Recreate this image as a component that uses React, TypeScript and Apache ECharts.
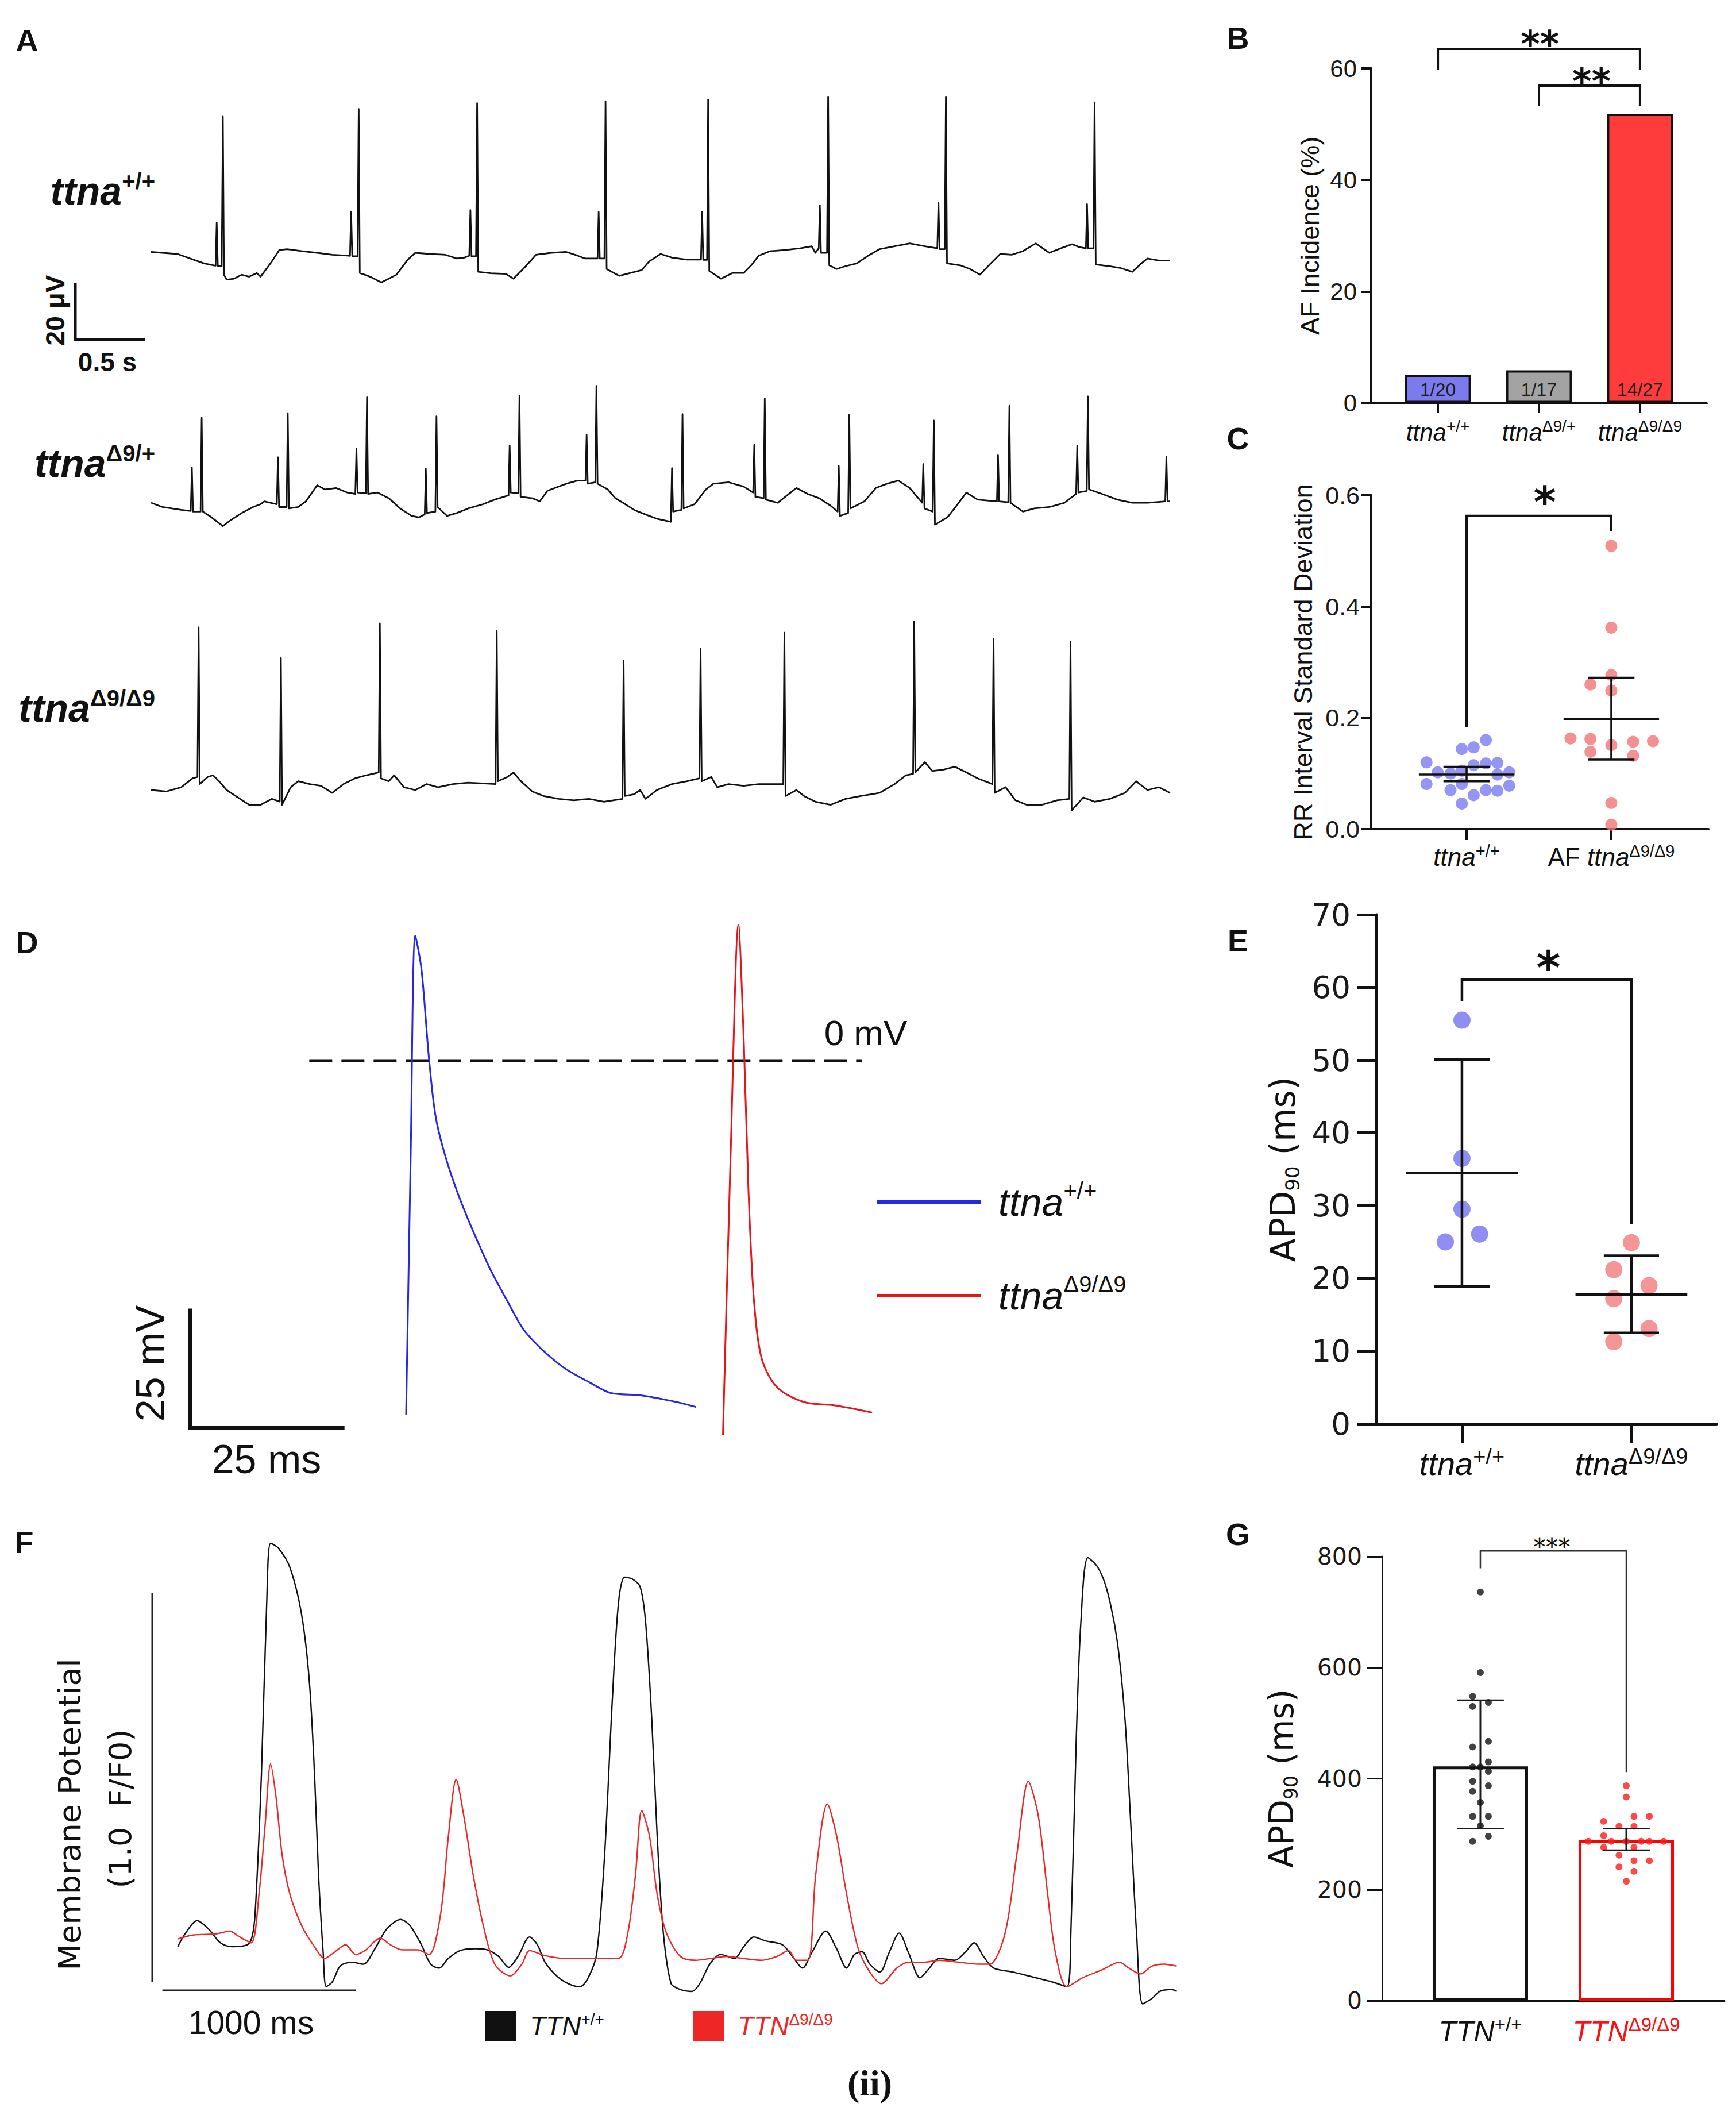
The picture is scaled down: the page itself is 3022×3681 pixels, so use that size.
import React, { useEffect, useRef } from 'react';
import * as echarts from 'echarts';

const LS = 'Liberation Sans';
const DV = 'DejaVu Sans';
const SERIF = 'Liberation Serif';

// ================= Panel A: surface ECG, [time (s), amplitude (µV)] =================
const ecgWT = [[0,0.3],[0.188,-0.4],[0.377,-3.7],[0.447,-4.4],[0.46,-4.5],[0.468,10.7],[0.476,-4.6],[0.504,-4.7],[0.512,47.9],[0.52,-7.7],[0.539,-9.4],[0.592,-9.1],[0.646,-7.7],[0.7,-8.4],[0.754,-7.1],[0.781,-8.4],[0.862,-3.0],[0.915,1.0],[0.969,1.3],[1.077,0.6],[1.185,0.0],[1.292,-0.7],[1.4,-1.0],[1.419,-1.1],[1.427,14.4],[1.435,-1.2],[1.473,-1.2],[1.481,50.6],[1.489,-7.1],[1.562,-8.4],[1.642,-10.4],[1.696,-9.1],[1.75,-7.7],[1.831,-2.4],[1.885,0.0],[1.992,-0.4],[2.1,-0.7],[2.181,-2.0],[2.235,-1.7],[2.27,-1.0],[2.278,15.0],[2.286,-1.2],[2.318,-1.2],[2.326,52.6],[2.334,-6.7],[2.423,-7.2],[2.531,-7.4],[2.585,-9.1],[2.666,-5.1],[2.746,-0.7],[2.854,0.0],[2.962,0.3],[3.043,-1.0],[3.096,-2.0],[3.185,-2.0],[3.193,14.4],[3.201,-2.0],[3.234,-2.0],[3.242,53.3],[3.25,-5.7],[3.339,-8.1],[3.419,-7.1],[3.5,-6.1],[3.554,-3.0],[3.635,-0.4],[3.716,-1.7],[3.823,-2.4],[3.923,-2.4],[3.931,14.4],[3.939,-2.5],[3.966,-2.5],[3.974,53.9],[3.982,-6.4],[4.066,-9.1],[4.147,-7.1],[4.227,-7.1],[4.281,-4.4],[4.335,-1.0],[4.416,0.6],[4.523,1.0],[4.631,1.6],[4.712,2.3],[4.739,0.0],[4.763,1.6],[4.771,16.7],[4.779,0.0],[4.822,0.0],[4.83,54.9],[4.838,-4.4],[4.89,-5.7],[4.954,-4.7],[5.035,-3.7],[5.116,-1.0],[5.197,1.3],[5.304,2.3],[5.412,3.3],[5.52,2.3],[5.609,1.6],[5.617,17.7],[5.625,1.3],[5.662,1.3],[5.67,54.9],[5.678,-3.7],[5.773,-4.4],[5.843,-5.7],[5.913,-7.7],[5.977,-4.4],[6.058,-0.4],[6.139,-0.7],[6.22,0.6],[6.311,3.3],[6.408,0.0],[6.489,1.6],[6.57,3.0],[6.623,2.0],[6.669,1.6],[6.677,17.1],[6.685,1.6],[6.723,1.6],[6.731,52.9],[6.739,-4.1],[6.839,-4.7],[6.92,-5.4],[7.0,-6.7],[7.065,-3.7],[7.108,-2.0],[7.189,-2.7],[7.27,-2.7]];
const ecgHet = [[0,1.0],[0.081,-0.5],[0.215,-1.5],[0.283,-1.9],[0.291,13.4],[0.299,-2.1],[0.353,-2.1],[0.361,30.9],[0.369,-2.1],[0.431,-4.1],[0.512,-7.2],[0.565,-5.2],[0.646,-2.6],[0.727,-0.5],[0.781,0.5],[0.808,1.5],[0.897,0.5],[0.905,17.0],[0.913,-0.5],[0.967,-0.5],[0.975,32.5],[0.983,-1.0],[1.05,-0.5],[1.104,1.5],[1.185,7.2],[1.239,5.7],[1.319,6.2],[1.4,4.6],[1.457,4.1],[1.465,20.1],[1.473,4.6],[1.532,4.3],[1.54,38.1],[1.548,4.1],[1.616,4.6],[1.696,2.6],[1.777,-1.0],[1.858,-3.6],[1.912,-4.1],[1.952,-3.1],[1.96,12.9],[1.968,-2.6],[2.028,-2.1],[2.036,31.4],[2.044,-0.5],[2.111,-3.6],[2.181,-2.6],[2.262,-1.0],[2.369,0.5],[2.45,2.1],[2.55,3.6],[2.558,21.1],[2.566,4.6],[2.62,4.3],[2.628,38.7],[2.636,3.1],[2.719,2.6],[2.773,1.5],[2.827,5.2],[2.881,6.2],[2.962,7.7],[3.043,8.8],[3.099,8.8],[3.107,24.9],[3.115,7.7],[3.169,8.2],[3.177,42.1],[3.185,7.7],[3.258,5.7],[3.312,2.6],[3.366,1.0],[3.446,-1.5],[3.527,-3.1],[3.608,-4.6],[3.708,-5.7],[3.716,13.2],[3.724,-2.1],[3.783,-1.5],[3.791,32.2],[3.799,-1.0],[3.877,0.5],[3.958,5.7],[4.012,7.7],[4.12,8.2],[4.227,6.7],[4.295,4.6],[4.303,21.4],[4.311,3.1],[4.37,2.6],[4.378,37.6],[4.386,2.1],[4.47,1.0],[4.55,4.1],[4.604,6.2],[4.685,4.1],[4.766,2.6],[4.847,0.0],[4.898,-2.1],[4.906,13.9],[4.914,-3.6],[4.973,-2.6],[4.981,32.0],[4.989,-1.0],[5.089,1.5],[5.17,6.2],[5.25,7.7],[5.331,8.8],[5.412,6.2],[5.501,1.0],[5.509,14.6],[5.517,-1.0],[5.576,-2.1],[5.584,29.9],[5.592,-6.7],[5.681,-4.1],[5.762,1.0],[5.816,4.6],[5.897,2.1],[6.034,1.5],[6.042,17.7],[6.05,1.5],[6.115,1.2],[6.123,35.1],[6.131,1.0],[6.22,-2.1],[6.3,-1.0],[6.408,-0.5],[6.516,1.0],[6.599,4.1],[6.607,21.1],[6.615,4.6],[6.675,5.2],[6.683,38.4],[6.691,5.7],[6.785,4.1],[6.893,2.1],[7.0,1.0],[7.108,1.0],[7.235,1.5],[7.243,17.3],[7.251,1.5],[7.27,1.5]];
const ecgHom = [[0,0],[0.108,-0.5],[0.215,1.0],[0.296,4.1],[0.331,4.6],[0.339,57.2],[0.347,2.1],[0.404,4.6],[0.442,5.2],[0.485,3.1],[0.539,0],[0.619,-2.6],[0.7,-5.2],[0.781,-5.2],[0.862,-3.1],[0.918,-4.1],[0.926,46.4],[0.934,-5.2],[0.996,1.0],[1.05,3.1],[1.131,2.1],[1.212,1.5],[1.292,-1.0],[1.373,2.1],[1.454,4.1],[1.535,5.2],[1.624,6.2],[1.632,58.6],[1.64,4.1],[1.696,3.1],[1.734,5.2],[1.804,1.0],[1.885,0],[1.966,2.1],[2.046,1.0],[2.154,2.1],[2.262,2.6],[2.458,2.1],[2.466,55.9],[2.474,3.1],[2.542,4.6],[2.585,6.2],[2.639,3.1],[2.719,-0.5],[2.8,-2.1],[2.908,-3.1],[3.016,-3.6],[3.123,-3.1],[3.231,-4.1],[3.363,-3.1],[3.371,45.6],[3.379,-2.1],[3.446,-1.5],[3.489,0],[3.527,-3.1],[3.608,0],[3.716,2.1],[3.823,3.1],[3.912,4.1],[3.92,49.8],[3.928,3.1],[3.996,4.6],[4.039,1.0],[4.12,2.1],[4.227,1.5],[4.335,2.1],[4.51,2.1],[4.518,55.3],[4.526,-2.1],[4.604,0],[4.658,-2.1],[4.739,-4.1],[4.847,-5.2],[4.954,-3.1],[5.062,-2.1],[5.197,-1.0],[5.304,2.1],[5.385,5.2],[5.436,5.7],[5.444,59.3],[5.452,6.2],[5.52,9.8],[5.573,6.7],[5.654,7.2],[5.735,8.2],[5.816,6.2],[5.897,4.1],[6.002,2.1],[6.01,53.1],[6.018,-1.0],[6.096,1.0],[6.166,-3.6],[6.247,-5.2],[6.354,-5.2],[6.462,-3.6],[6.551,-3.1],[6.559,52.1],[6.567,-7.2],[6.65,-2.6],[6.731,-4.1],[6.839,-3.1],[6.947,-1.0],[7.027,3.1],[7.108,0],[7.189,1.0],[7.27,-1.0]];
const aScaleBar = [[-0.541, -10.5], [-0.541, -30.5], [-0.041, -30.5]]; // 20 µV, 0.5 s
const aLabelSup = ['+/+', 'Δ9/+', 'Δ9/Δ9'];

// ================= Panel B: AF incidence =================
const bLabelSup = ['+/+', 'Δ9/+', 'Δ9/Δ9'];
const bIncidence = [5.0, 5.88, 51.85];
const bCounts = ['1/20', '1/17', '14/27'];
const bBrackets = [[0, 2, 63.5, 60, 60], [1, 2, 56.9, 53.4, 53.4]];
const bStars = [[1.01, 64.3], [1.52, 57.6]];
const bStarText = ['**', '**'];

// ================= Panel C: RR interval SD =================
const cWT = [0.160, 0.147, 0.144, 0.120, 0.119, 0.118, 0.115, 0.102, 0.100, 0.102, 0.098, 0.105, 0.081, 0.081, 0.078, 0.070, 0.070, 0.069, 0.061, 0.046];
const cWTJitter = [0.133, 0.049, -0.033, -0.277, 0.213, 0.133, 0.049, -0.2, -0.111, 0.295, 0.213, -0.033, -0.277, -0.033, 0.295, -0.111, 0.133, 0.213, 0.049, -0.033];
const cAF = [0.509, 0.362, 0.277, 0.260, 0.249, 0.163, 0.162, 0.157, 0.158, 0.151, 0.139, 0.132, 0.047, 0.008];
const cAFJitter = [0, 0, 0, -0.144, 0, -0.282, -0.144, 0.151, 0.288, 0, -0.144, 0.151, 0, 0];
const cStats = [[0, 0.098, 0.086, 0.112], [1, 0.198, 0.125, 0.272]]; // [group, mean, lower, upper]
const cBrackets = [[0, 1, 0.563, 0.186, 0.537]];
const cStars = [[0.54, 0.588]];

// ================= Panel D: action potentials, [time (ms), mV] =================
const apWT = [[15.66,-74.2],[16.41,-19.3],[17.15,26.2],[18.15,19.1],[19.40,-0.1],[20.65,-13.2],[23.78,-27.0],[28.77,-42.4],[31.90,-50.1],[35.02,-57.0],[40.65,-63.9],[45.64,-67.7],[48.77,-69.7],[53.76,-70.2],[58.76,-71.4],[62.51,-72.6]];
const apHom = [[66.89,-78.5],[68.14,-19.3],[69.39,28.4],[70.27,3.7],[71.01,-27.0],[71.89,-50.1],[73.14,-62.4],[75.64,-68.5],[80.01,-71.6],[85.01,-72.3],[91.01,-73.8]];
const apZeroLine = [[0, 0], [89.4, 0]];
const apScaleBar = [[-19.3, -52], [-19.3, -77], [5.7, -77]]; // 25 mV, 25 ms

// ================= Panel E: APD90 zebrafish =================
const eWT = [55.5, 36.5, 29.5, 25.0, 26.1];
const eWTJitter = [0, 0, 0, -0.098, 0.104];
const eHom = [24.9, 21.2, 19.0, 17.2, 13.1, 11.3];
const eHomJitter = [0, -0.104, 0.104, -0.104, 0.104, -0.104];
const eStats = [[0, 34.5, 18.9, 50.1], [1, 17.8, 12.5, 23.1]];
const eBrackets = [[0, 1, 61.1, 58.3, 27.6]];
const eStars = [[0.51, 62.7]];

// ================= Panel F: optical membrane potential, [time (ms), F/F0] =================
const fWT = [[80,0.090],[120,0.125],[180,0.157],[240,0.135],[300,0.100],[360,0.090],[440,0.095],[464,0.115],[480,0.175],[512,0.525],[540,0.975],[560,1.127],[600,1.115],[660,1.065],[720,0.945],[760,0.775],[788,0.525],[808,0.275],[832,0.075],[848,-0.013],[880,0.000],[920,0.040],[980,0.050],[1040,0.045],[1100,0.085],[1160,0.135],[1232,0.160],[1280,0.145],[1340,0.095],[1388,0.045],[1432,0.035],[1480,0.060],[1540,0.080],[1620,0.085],[1680,0.082],[1740,0.065],[1792,0.037],[1840,0.065],[1900,0.115],[1940,0.095],[1980,0.050],[2040,0.015],[2100,-0.005],[2160,-0.013],[2208,0.015],[2248,0.075],[2288,0.325],[2328,0.725],[2360,0.975],[2392,1.040],[2432,1.035],[2472,1.015],[2500,0.925],[2532,0.675],[2560,0.375],[2592,0.125],[2632,-0.005],[2680,-0.020],[2740,-0.025],[2780,-0.005],[2832,0.045],[2888,0.070],[2960,0.060],[3008,0.090],[3060,0.115],[3120,0.105],[3208,0.095],[3260,0.065],[3312,0.035],[3360,0.075],[3432,0.130],[3488,0.085],[3540,0.035],[3580,0.070],[3620,0.077],[3660,0.045],[3712,0.025],[3760,0.075],[3812,0.125],[3860,0.075],[3920,0.010],[3960,0.030],[4020,0.060],[4100,0.055],[4152,0.075],[4200,0.100],[4248,0.065],[4300,0.035],[4400,0.025],[4520,0.010],[4600,0.000],[4680,-0.013],[4700,0.125],[4728,0.625],[4752,0.925],[4788,1.090],[4840,1.065],[4888,1.005],[4940,0.875],[4980,0.675],[5008,0.425],[5040,0.125],[5072,-0.057],[5120,-0.043],[5160,-0.025],[5220,-0.020],[5248,-0.025]];
const fHom = [[80,0.110],[160,0.120],[280,0.123],[348,0.130],[400,0.115],[460,0.100],[500,0.225],[532,0.405],[560,0.560],[588,0.475],[620,0.325],[660,0.225],[720,0.145],[780,0.095],[840,0.060],[888,0.075],[948,0.095],[1000,0.070],[1048,0.080],[1128,0.112],[1180,0.095],[1240,0.082],[1320,0.082],[1380,0.070],[1440,0.175],[1480,0.375],[1520,0.520],[1560,0.425],[1608,0.275],[1660,0.145],[1720,0.045],[1800,0.015],[1860,0.045],[1900,0.080],[1980,0.067],[2080,0.060],[2240,0.060],[2360,0.060],[2408,0.125],[2448,0.275],[2480,0.440],[2520,0.375],[2560,0.225],[2608,0.125],[2680,0.065],[2760,0.055],[2840,0.060],[2920,0.065],[3000,0.060],[3100,0.055],[3180,0.065],[3240,0.080],[3280,0.055],[3340,0.055],[3380,0.275],[3440,0.457],[3488,0.375],[3540,0.225],[3600,0.085],[3660,0.025],[3720,-0.005],[3800,0.035],[3860,0.050],[3940,0.050],[4020,0.055],[4120,0.050],[4220,0.045],[4280,0.045],[4360,0.125],[4420,0.325],[4480,0.515],[4532,0.425],[4580,0.225],[4620,0.075],[4680,-0.013],[4760,0.010],[4860,0.030],[4952,0.050],[5000,0.035],[5060,0.020],[5120,0.040],[5180,0.045],[5248,0.040]];
const fAmpBar = [[-53, 0], [-53, 1.0]]; // 1.0 F/F0
const fTimeBar = [[0, -0.022], [1000, -0.022]]; // 1000 ms

// ================= Panel G: APD90 iPSC-CMs =================
const gWT = [736, 591, 548, 537, 530, 467, 457, 430, 421, 413, 421, 395, 387, 377, 357, 332, 332, 315, 296, 287];
const gWTJitter = [0, 0, -0.053, 0.055, -0.053, 0.055, -0.053, 0.055, -0.053, 0.055, 0, -0.053, 0.055, -0.053, 0, -0.053, 0.055, 0, 0.055, -0.053];
const gHom = [387, 367, 323, 332, 332, 314, 314, 297, 287, 287, 287, 287, 287, 287, 276, 276, 262, 252, 252, 241, 233, 215];
const gHomJitter = [0, 0, -0.155, 0.053, 0.158, -0.05, 0.053, -0.155, -0.26, -0.103, 0, 0.103, 0.158, 0.257, -0.155, 0.053, -0.05, 0.053, 0.158, -0.05, 0.053, 0];
const gMeans = [422, 289];
const gStats = [[0, 422, 310, 541], [1, 289, 271, 310]];
const gBrackets = [[0, 1, 810, 780, 413]];
const gStars = [[0.49, 817.6]];

// ================= helpers =================
const INK = '#111111';

function bracketSeries(ax: number, brackets: number[][], color: string, width: number) {
  return brackets.map((b) => ({
    type: 'line', xAxisIndex: ax, yAxisIndex: ax, symbol: 'none', clip: false, silent: true, z: 6,
    lineStyle: { color, width, cap: 'square', join: 'miter' },
    data: [[b[0], b[3]], [b[0], b[2]], [b[1], b[2]], [b[1], b[4]]],
  }));
}

function starSeries(ax: number, pts: number[][], texts: string[], size: number, weight: string) {
  return {
    type: 'custom', xAxisIndex: ax, yAxisIndex: ax, clip: false, silent: true, z: 7,
    data: pts,
    renderItem: (params: any, api: any) => {
      const p = api.coord([api.value(0), api.value(1)]);
      return {
        type: 'text', x: p[0], y: p[1],
        style: { text: texts[params.dataIndex], fontSize: size, fontFamily: DV, fontWeight: weight, fill: INK, align: 'center', verticalAlign: 'middle' },
      };
    },
  };
}

function errorBarSeries(ax: number, stats: number[][], meanHalf: number, capHalf: number, color: string, width: number) {
  return {
    type: 'custom', xAxisIndex: ax, yAxisIndex: ax, clip: false, silent: true, z: 5,
    data: stats,
    renderItem: (params: any, api: any) => {
      const x = api.value(0), m = api.value(1), lo = api.value(2), hi = api.value(3);
      const children: any[] = [];
      const seg = (a: number[], b: number[]) => children.push({
        type: 'line', shape: { x1: a[0], y1: a[1], x2: b[0], y2: b[1] }, style: { stroke: color, lineWidth: width },
      });
      seg(api.coord([x, lo]), api.coord([x, hi]));
      seg(api.coord([x - capHalf, lo]), api.coord([x + capHalf, lo]));
      seg(api.coord([x - capHalf, hi]), api.coord([x + capHalf, hi]));
      if (meanHalf > 0) seg(api.coord([x - meanHalf, m]), api.coord([x + meanHalf, m]));
      return { type: 'group', children };
    },
  };
}

function hiddenAxis(gridIndex: number, min: number, max: number) {
  return { type: 'value', gridIndex, min, max, show: false, splitLine: { show: false } };
}

function catXAxis(gridIndex: number, min: number, max: number, ticks: number[], labels: string[], o: any) {
  return {
    type: 'value', gridIndex, min, max,
    axisLine: { show: true, onZero: false, lineStyle: { color: INK, width: o.lw } },
    axisTick: { show: o.showTick, customValues: ticks, length: o.tickLen, lineStyle: { color: INK, width: o.lw } },
    axisLabel: { show: true, customValues: ticks, margin: o.margin, formatter: (v: number) => labels[Math.round(v)], rich: o.rich },
    splitLine: { show: false },
  };
}

function valYAxis(gridIndex: number, min: number, max: number, interval: number, o: any) {
  return {
    type: 'value', gridIndex, min, max, interval,
    axisLine: { show: true, onZero: false, lineStyle: { color: INK, width: o.lw } },
    axisTick: { show: true, length: o.tickLen, lineStyle: { color: INK, width: o.lw } },
    axisLabel: { margin: o.margin, fontSize: o.fontSize, fontFamily: o.fontFamily, color: '#1a1a1a', formatter: o.formatter },
    splitLine: { show: false },
    name: o.name, nameLocation: 'middle', nameGap: o.nameGap, nameTextStyle: o.nameTextStyle,
  };
}

function supRich(family: string, size: number, supSize: number, lh: number, color: string, italic = true) {
  return {
    n: { fontFamily: family, fontSize: size, lineHeight: lh, color },
    i: { fontFamily: family, fontStyle: italic ? 'italic' : 'normal', fontSize: size, lineHeight: lh, color },
    s: { fontFamily: family, fontSize: supSize, lineHeight: Math.round(supSize * 1.05), verticalAlign: 'top', color },
  };
}

function buildOption() {
  const grids = [
    { left: 116.6, top: 143, width: 1920.4, height: 495 }, // A1 (t from -0.6 s)
    { left: 116.6, top: 583, width: 1920.4, height: 495 }, // A2
    { left: 116.6, top: 1078, width: 1920.4, height: 495 }, // A3
    { left: 323, top: 1514, width: 1292, height: 1079 }, // D
    { left: 262.4, top: 2636.6, width: 1803.6, height: 947.8 }, // F (t from -60 ms)
    { left: 2387, top: 119, width: 584, height: 582.5 }, // B
    { left: 2387, top: 862, width: 587, height: 581 }, // C
    { left: 2396, top: 1592, width: 592, height: 886 }, // E
    { left: 2406, top: 2709, width: 596, height: 773 }, // G
  ].map((g) => ({ ...g, outerBoundsMode: 'none', containLabel: false }));

  const bLabels = bLabelSup.map((s) => `{i|ttna}{s|${s}}`);
  const cLabels = ['{i|ttna}{s|+/+}', '{n|AF }{i|ttna}{s|Δ9/Δ9}'];
  const eLabels = ['{i|ttna}{s|+/+}', '{i|ttna}{s|Δ9/Δ9}'];
  const gLabels = ['{i|TTN}{s|+/+}', '{ir|TTN}{sr|Δ9/Δ9}'];

  const gRich: any = {
    ...supRich(LS, 50, 33, 58, INK),
    ir: { fontFamily: LS, fontStyle: 'italic', fontSize: 50, lineHeight: 58, color: '#ff1010' },
    sr: { fontFamily: LS, fontSize: 33, lineHeight: 35, verticalAlign: 'top', color: '#ff1010' },
  };

  const xAxis = [
    hiddenAxis(0, -0.6, 7.27), hiddenAxis(1, -0.6, 7.27), hiddenAxis(2, -0.6, 7.27),
    hiddenAxis(3, -20, 100), hiddenAxis(4, -60, 5300),
    catXAxis(5, -0.66, 2.66, [0, 1, 2], bLabels, { lw: 4, showTick: true, tickLen: 17, margin: 26, rich: supRich(LS, 42, 28, 50, INK) }),
    catXAxis(6, -0.659, 1.671, [0, 1], cLabels, { lw: 4, showTick: true, tickLen: 19, margin: 23, rich: supRich(LS, 44, 29, 50, INK) }),
    catXAxis(7, -0.505, 1.502, [0, 1], eLabels, { lw: 5, showTick: true, tickLen: 33, margin: 38, rich: supRich(LS, 56, 38, 62, INK) }),
    catXAxis(8, -0.673, 1.673, [0, 1], gLabels, { lw: 3, showTick: false, tickLen: 0, margin: 25, rich: gRich }),
  ];

  const apdName = '{a|APD}{b|90}{a| (ms)}';
  const apdRich = (size: number) => ({
    rich: {
      a: { fontFamily: DV, fontSize: size, lineHeight: Math.round(size * 1.15), color: INK },
      b: { fontFamily: DV, fontSize: Math.round(size * 0.57), lineHeight: Math.round(size * 0.66), verticalAlign: 'bottom', color: INK },
    },
  });

  const yAxis = [
    hiddenAxis(0, -40, 60), hiddenAxis(1, -40, 60), hiddenAxis(2, -40, 60),
    hiddenAxis(3, -90, 40), hiddenAxis(4, -0.2, 1.2),
    valYAxis(5, 0, 60, 20, { lw: 4, tickLen: 18, margin: 25, fontSize: 42, fontFamily: LS, name: 'AF Incidence (%)', nameGap: 84, nameTextStyle: { fontFamily: LS, fontSize: 45, color: INK } }),
    valYAxis(6, 0, 0.6, 0.2, { lw: 4, tickLen: 18, margin: 20, fontSize: 43, fontFamily: LS, formatter: (v: number) => v.toFixed(1), name: 'RR Interval Standard Deviation', nameGap: 96, nameTextStyle: { fontFamily: LS, fontSize: 45, color: INK } }),
    valYAxis(7, 0, 70, 10, { lw: 5, tickLen: 33, margin: 45, fontSize: 53, fontFamily: DV, name: apdName, nameGap: 129, nameTextStyle: apdRich(60) }),
    valYAxis(8, 0, 800, 200, { lw: 3, tickLen: 27, margin: 35, fontSize: 41, fontFamily: DV, name: apdName, nameGap: 142, nameTextStyle: apdRich(58) }),
  ];

  const traceLine = (ax: number, data: number[][], color: string, width: number, name?: string, smooth: any = false) => ({
    type: 'line', name, xAxisIndex: ax, yAxisIndex: ax, data, symbol: 'none', smooth, clip: false, silent: true,
    color, itemStyle: { color }, lineStyle: { color, width, join: 'round' },
  });

  const BLUE_D = '#2626e8';
  const RED_D = '#e8141c';
  const RED_F = '#ee2626';

  const series: any[] = [
    // Panel A
    traceLine(0, ecgWT, INK, 2.8),
    traceLine(1, ecgHet, INK, 2.8),
    traceLine(2, ecgHom, INK, 2.8),
    { ...traceLine(0, aScaleBar, INK, 5), lineStyle: { color: INK, width: 5, join: 'miter', cap: 'butt' } },
    // Panel D
    { type: 'line', xAxisIndex: 3, yAxisIndex: 3, data: apZeroLine, symbol: 'none', silent: true, lineStyle: { color: INK, width: 5, type: [40, 16] } },
    traceLine(3, apWT, BLUE_D, 3, 'D_wt', 0.3),
    traceLine(3, apHom, RED_D, 3, 'D_hom', 0.3),
    { ...traceLine(3, apScaleBar, INK, 7), lineStyle: { color: INK, width: 7, join: 'miter', cap: 'butt' } },
    // Panel F
    traceLine(4, fWT, INK, 2.4, 'F_wt', 0.3),
    traceLine(4, fHom, RED_F, 2.4, 'F_hom', 0.3),
    traceLine(4, fAmpBar, '#222', 2.5),
    traceLine(4, fTimeBar, '#222', 3),
    // Panel B
    {
      type: 'bar', xAxisIndex: 5, yAxisIndex: 5, barWidth: 115, silent: true, z: 2,
      data: bIncidence.map((v, i) => ({ value: [i, v], itemStyle: { color: ['#7b7bef', '#a3a3a3', '#ff3c3c'][i] } })),
      itemStyle: { borderColor: INK, borderWidth: 4 },
      label: { show: true, position: 'insideBottom', distance: 8, formatter: (p: any) => bCounts[p.dataIndex], fontSize: 32, fontFamily: LS, color: '#1c1c1c' },
    },
    ...bracketSeries(5, bBrackets, INK, 4),
    starSeries(5, bStars, bStarText, 64, 'bold'),
    // Panel C
    { type: 'scatter', xAxisIndex: 6, yAxisIndex: 6, symbolSize: 21, silent: true, z: 2, itemStyle: { color: '#7b7bf2' }, data: cWT.map((v, i) => [0 + cWTJitter[i], v]) },
    { type: 'scatter', xAxisIndex: 6, yAxisIndex: 6, symbolSize: 21, silent: true, z: 2, itemStyle: { color: '#f37474' }, data: cAF.map((v, i) => [1 + cAFJitter[i], v]) },
    errorBarSeries(6, cStats, 0.33, 0.16, INK, 3.5),
    ...bracketSeries(6, cBrackets, INK, 4),
    starSeries(6, cStars, ['*'], 75, 'bold'),
    // Panel E
    { type: 'scatter', xAxisIndex: 7, yAxisIndex: 7, symbolSize: 30, silent: true, z: 2, itemStyle: { color: '#7272f0' }, data: eWT.map((v, i) => [0 + eWTJitter[i], v]) },
    { type: 'scatter', xAxisIndex: 7, yAxisIndex: 7, symbolSize: 30, silent: true, z: 2, itemStyle: { color: '#f47a7a' }, data: eHom.map((v, i) => [1 + eHomJitter[i], v]) },
    errorBarSeries(7, eStats, 0.33, 0.163, INK, 4.5),
    ...bracketSeries(7, eBrackets, INK, 4.5),
    starSeries(7, eStars, ['*'], 80, 'bold'),
    // Panel G
    {
      type: 'bar', xAxisIndex: 8, yAxisIndex: 8, barWidth: 166, silent: true, z: 1,
      data: gMeans.map((v, i) => ({ value: [i, v], itemStyle: { color: 'rgba(255,255,255,0)', borderColor: [INK, '#ff0000'][i], borderWidth: 5 } })),
    },
    { type: 'scatter', xAxisIndex: 8, yAxisIndex: 8, symbolSize: 12, silent: true, z: 3, itemStyle: { color: '#111' }, data: gWT.map((v, i) => [0 + gWTJitter[i], v]) },
    { type: 'scatter', xAxisIndex: 8, yAxisIndex: 8, symbolSize: 12, silent: true, z: 3, itemStyle: { color: '#ff1a1a' }, data: gHom.map((v, i) => [1 + gHomJitter[i], v]) },
    errorBarSeries(8, gStats, 0, 0.161, '#1a1a1a', 3),
    ...bracketSeries(8, gBrackets, '#333', 2.5),
    starSeries(8, gStars, ['***'], 43, 'normal'),
  ];

  const legendBase = { orient: 'horizontal', padding: 0, itemGap: 0, icon: 'rect', selectedMode: false };
  const dRich = () => ({
    i: { fontFamily: LS, fontStyle: 'italic', fontSize: 68, lineHeight: 80, color: INK, padding: [0, 0, 0, 26] },
    s: { fontFamily: LS, fontSize: 40, lineHeight: 42, verticalAlign: 'top', color: INK },
  });
  const fRich = (color: string) => ({
    i: { fontFamily: LS, fontStyle: 'italic', fontSize: 46, lineHeight: 52, color, padding: [0, 0, 0, 18] },
    s: { fontFamily: LS, fontSize: 28, lineHeight: 30, verticalAlign: 'top', color },
  });
  const legend = [
    { ...legendBase, left: 1526, top: 2052, itemWidth: 181, itemHeight: 6, data: ['D_wt'], formatter: () => '{i|ttna}{s|+/+}', textStyle: { rich: dRich() } },
    { ...legendBase, left: 1526, top: 2215, itemWidth: 181, itemHeight: 6, data: ['D_hom'], formatter: () => '{i|ttna}{s|Δ9/Δ9}', textStyle: { rich: dRich() } },
    { ...legendBase, left: 845, top: 3500, itemWidth: 54, itemHeight: 52, data: ['F_wt'], formatter: () => '{i|TTN}{s|+/+}', textStyle: { rich: fRich(INK) } },
    { ...legendBase, left: 1207, top: 3500, itemWidth: 54, itemHeight: 52, data: ['F_hom'], formatter: () => '{i|TTN}{s|Δ9/Δ9}', textStyle: { rich: fRich(RED_F) } },
  ];

  const panelLetter = (t: string, x: number, y: number) => ({
    type: 'text', x, y, silent: true,
    style: { text: t, fontFamily: LS, fontWeight: 'bold', fontSize: 54, fill: INK, align: 'center', verticalAlign: 'middle' },
  });
  const aLabel = (sup: string, y: number) => ({
    type: 'text', x: 270, y, silent: true,
    style: {
      text: `{a|ttna}{b|${sup}}`, align: 'right', verticalAlign: 'middle',
      rich: {
        a: { fontFamily: LS, fontSize: 68, fontWeight: 'bold', fontStyle: 'italic', lineHeight: 74, fill: INK },
        b: { fontFamily: LS, fontSize: 40, fontWeight: 'bold', lineHeight: 42, verticalAlign: 'top', fill: INK },
      },
    },
  });
  const plainText = (t: string, x: number, y: number, size: number, extra: any = {}) => ({
    type: 'text', x, y, silent: true, rotation: extra.rotation || 0,
    style: { text: t, fontFamily: extra.family || LS, fontWeight: extra.weight || 'normal', fontSize: size, fill: extra.fill || INK, align: 'center', verticalAlign: 'middle' },
  });

  const graphic = {
    elements: [
      panelLetter('A', 47, 70),
      panelLetter('B', 2155, 66),
      panelLetter('C', 2155, 763),
      panelLetter('D', 47, 1640),
      panelLetter('E', 2155, 1637),
      panelLetter('F', 42, 2684),
      panelLetter('G', 2155, 2670),
      aLabel(aLabelSup[0], 332),
      aLabel(aLabelSup[1], 806),
      aLabel(aLabelSup[2], 1232),
      plainText('20 μV', 96, 540, 46, { weight: 'bold', rotation: Math.PI / 2 }),
      plainText('0.5 s', 187, 630, 46, { weight: 'bold' }),
      plainText('0 mV', 1507, 1797, 62),
      plainText('25 mV', 262, 2373, 70, { rotation: Math.PI / 2 }),
      plainText('25 ms', 464, 2540, 70),
      plainText('Membrane Potential', 121, 3158, 54, { family: DV, rotation: Math.PI / 2 }),
      plainText('(1.0  F/F0)', 209, 3148, 54, { family: DV, rotation: Math.PI / 2 }),
      plainText('1000 ms', 437, 3520, 57),
      plainText('(ii)', 1514, 3625, 64, { family: SERIF, weight: 'bold' }),
    ],
  };

  return {
    animation: false,
    backgroundColor: '#ffffff',
    textStyle: { fontFamily: LS },
    grid: grids,
    xAxis,
    yAxis,
    legend,
    series,
    graphic,
  };
}

export default function App() {
  const ref = useRef<HTMLDivElement>(null);
  useEffect(() => {
    if (!ref.current) return;
    const chart = echarts.init(ref.current, null, { renderer: 'svg', width: 3022, height: 3681 });
    chart.setOption(buildOption() as any);
    return () => chart.dispose();
  }, []);
  return <div ref={ref} style={{ position: 'absolute', left: 0, top: 0, width: 3022, height: 3681, background: '#fff' }} />;
}
